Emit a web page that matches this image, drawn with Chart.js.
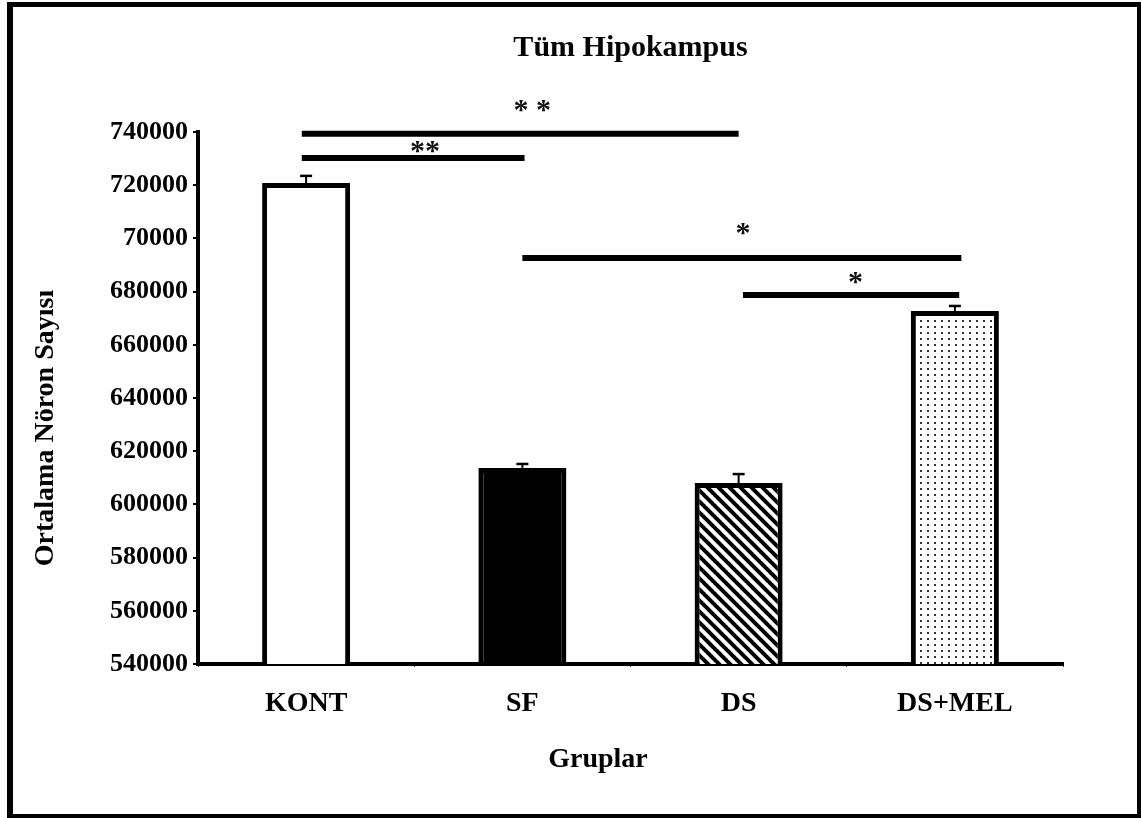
<!DOCTYPE html>
<html><head><meta charset="utf-8">
<script src="https://cdn.jsdelivr.net/npm/chart.js@4.4.0/dist/chart.umd.min.js"></script>
<style>html,body{margin:0;padding:0;background:#fff;} #wrap{width:1141px;height:818px;position:relative;}</style>
</head><body><div id="wrap"><canvas id="c" width="1141" height="818"></canvas></div>
<script>
// ---- data ----
const categories = ['KONT', 'SF', 'DS', 'DS+MEL'];
const meanValues = [720800, 613700, 608000, 672700];
const errorValues = [2700, 1500, 3400, 1900];
const yTickValues = [540000, 560000, 580000, 600000, 620000, 640000, 660000, 680000, 700000, 720000, 740000];
const yTickLabels = ['540000', '560000', '580000', '600000', '620000', '640000', '660000', '680000', '70000', '720000', '740000'];
// significance brackets (category positions, value levels)
const sigFrom = [-0.02, -0.02, 1.0, 2.02];
const sigTo = [2.0, 1.01, 3.03, 3.02];
const sigLevel = [739300, 730200, 692600, 678700];
const sigText = ['* *', '**', '*', '*'];
const sigTextX = [1.046, 0.55, 2.02, 2.54];
const sigTextY = [749800, 734400, 703500, 685100];

const FONT = '"Liberation Serif", "Times New Roman", serif';

function stripePattern() {
  const s = 11, c = document.createElement('canvas');
  c.width = s; c.height = s;
  const g = c.getContext('2d');
  g.fillStyle = '#fff'; g.fillRect(0, 0, s, s);
  g.strokeStyle = '#000'; g.lineWidth = 4;
  for (let k = -1; k <= 1; k++) {
    g.beginPath(); g.moveTo(k * s - 1, -1); g.lineTo(k * s + s + 1, s + 1); g.stroke();
  }
  return g.createPattern(c, 'repeat');
}
function dotPattern() {
  const c = document.createElement('canvas');
  c.width = 7; c.height = 6;
  const g = c.getContext('2d');
  g.fillStyle = '#fff'; g.fillRect(0, 0, 7, 6);
  g.fillStyle = '#333'; g.fillRect(3, 2, 2, 2);
  return g.createPattern(c, 'repeat');
}

const fills = ['#ffffff', '#000000', stripePattern(), dotPattern()];

const extras = {
  id: 'extras',
  afterDatasetsDraw(chart) {
    const ctx = chart.ctx, xs = chart.scales.x, ys = chart.scales.y;
    const meta = chart.getDatasetMeta(0);
    ctx.save();
    // error bars
    ctx.strokeStyle = '#000';
    meta.data.forEach((el, i) => {
      const yTop = ys.getPixelForValue(meanValues[i]);
      const yErr = ys.getPixelForValue(meanValues[i] + errorValues[i]);
      ctx.lineWidth = 2;
      ctx.beginPath(); ctx.moveTo(el.x, yTop); ctx.lineTo(el.x, yErr); ctx.stroke();
      ctx.lineWidth = 2.5;
      ctx.beginPath(); ctx.moveTo(el.x - 6, yErr); ctx.lineTo(el.x + 6, yErr); ctx.stroke();
    });
    // significance lines
    ctx.lineWidth = 6; ctx.lineCap = 'butt';
    for (let i = 0; i < sigFrom.length; i++) {
      const y = ys.getPixelForValue(sigLevel[i]);
      ctx.beginPath();
      ctx.moveTo(xs.getPixelForValue(sigFrom[i]), y);
      ctx.lineTo(xs.getPixelForValue(sigTo[i]), y);
      ctx.stroke();
    }
    ctx.fillStyle = '#111';
    ctx.font = 'bold 30px ' + FONT;
    ctx.textAlign = 'center'; ctx.textBaseline = 'middle';
    for (let i = 0; i < sigText.length; i++) {
      ctx.fillText(sigText[i], xs.getPixelForValue(sigTextX[i]), ys.getPixelForValue(sigTextY[i]) + 5);
    }
    // axis titles
    ctx.fillStyle = '#000';
    ctx.font = 'bold 28px ' + FONT;
    ctx.fillText('Gruplar', 598, 760);
    ctx.save();
    ctx.translate(46, 428);
    ctx.rotate(-Math.PI / 2);
    ctx.fillText('Ortalama Nöron Sayısı', 0, 0);
    ctx.restore();
    // outer frame
    ctx.fillStyle = '#000';
    ctx.fillRect(7, 2, 1134, 5);
    ctx.fillRect(7, 2, 6, 816);
    ctx.fillRect(1137, 2, 4, 816);
    ctx.fillRect(7, 814, 1134, 4);
    ctx.restore();
  }
};

new Chart(document.getElementById('c'), {
  type: 'bar',
  data: {
    labels: categories,
    datasets: [{
      data: meanValues,
      backgroundColor: fills,
      borderColor: '#000',
      borderWidth: 5,
      borderSkipped: 'start',
      categoryPercentage: 1.0,
      barPercentage: 0.407
    }]
  },
  options: {
    responsive: false,
    animation: false,
    devicePixelRatio: 1,
    layout: { padding: { left: 19, right: 78, top: 10, bottom: 10 } },
    plugins: {
      legend: { display: false },
      tooltip: { enabled: false },
      title: {
        display: true, fullSize: false,
        text: 'Tüm Hipokampus', color: '#000',
        font: { family: FONT, size: 30, weight: 'bold' },
        padding: { top: 20, bottom: 66 }
      }
    },
    scales: {
      x: {
        offset: true,
        afterFit: s => { s.height = 144; },
        grid: { display: true, offset: true, drawOnChartArea: false, drawTicks: true, tickLength: 3, color: '#444', lineWidth: 1 },
        border: { display: true, color: '#000', width: 4 },
        ticks: { color: '#000', padding: 20, font: { family: FONT, size: 28, weight: 'bold' } }
      },
      y: {
        min: 540000, max: 740000,
        afterBuildTicks: s => { s.ticks = yTickValues.map(v => ({ value: v })); },
        afterFit: s => { s.width = 179; },
        grid: { display: true, drawOnChartArea: false, drawTicks: true, tickLength: 5, color: '#000', lineWidth: 2 },
        border: { display: true, color: '#000', width: 4 },
        ticks: {
          color: '#000', padding: 5,
          font: { family: FONT, size: 26, weight: 'bold' },
          callback: v => yTickLabels[yTickValues.indexOf(v)]
        }
      }
    }
  },
  plugins: [extras]
});
</script>
</body></html>
